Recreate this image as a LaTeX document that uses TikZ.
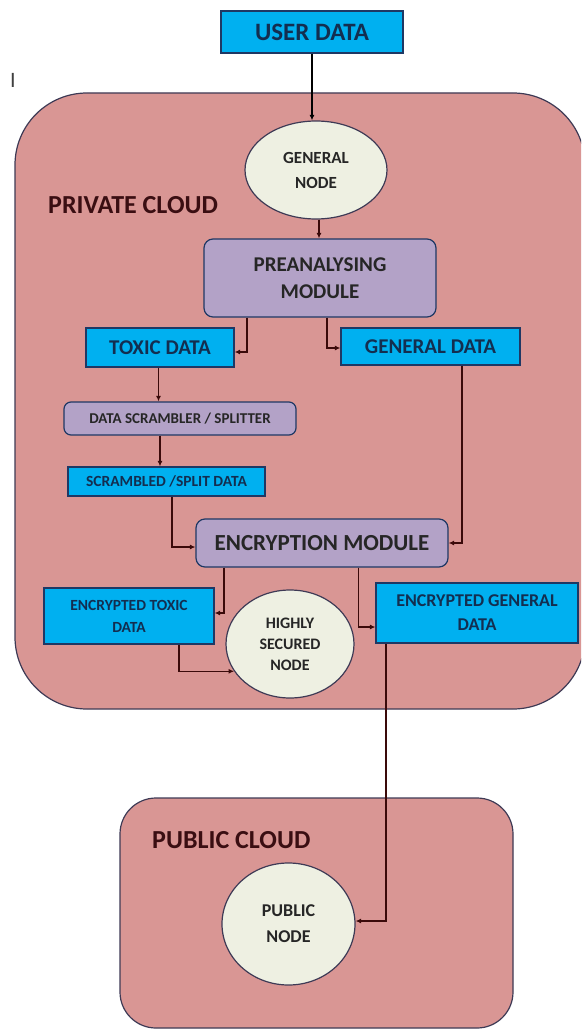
\documentclass[tikz,border=0pt]{standalone}
\usepackage{fontspec}
\setmainfont{Carlito}
\usetikzlibrary{arrows.meta,shapes.geometric}
\definecolor{cloudfill}{HTML}{D99694}
\definecolor{cloudline}{HTML}{3E3A55}
\definecolor{boxfill}{HTML}{00B0F0}
\definecolor{boxline}{HTML}{1F3864}
\definecolor{boxtext}{HTML}{132E50}
\definecolor{modfill}{HTML}{B3A2C7}
\definecolor{nodefill}{HTML}{EEF0E2}
\definecolor{conn}{HTML}{3A0A0A}
\definecolor{cloudtext}{HTML}{3A0E12}
\newcommand{\fs}[2]{\bfseries\fontsize{#1}{#2}\selectfont}
\begin{document}
\begin{tikzpicture}[x=1pt,y=-1pt,
 cloud/.style={draw=cloudline, fill=cloudfill, line width=1.2pt},
 databox/.style={draw=boxline, fill=boxfill, line width=1.2pt, text=boxtext, inner sep=0pt, align=center},
 modbox/.style={draw=boxline, fill=modfill, line width=1.2pt, rounded corners=9pt, text=black!85, inner sep=0pt, align=center},
 ellnode/.style={ellipse, draw=cloudline, fill=nodefill, line width=1.2pt, inner sep=0pt, align=center, text=black!85},
 cloudlabel/.style={anchor=west, inner sep=0pt, text=cloudtext},
 arr/.style={draw=conn, line width=1.3pt, -{Latex[length=5.5pt,width=5pt]}},
]
\fill[white] (0,0) rectangle (581,1030);
\useasboundingbox (0,0) rectangle (581,1030);
\clip (0,0) rectangle (581,1030);

% clouds
\draw[cloud, rounded corners=72pt] (15,93) rectangle (585,709);
\draw[cloud, rounded corners=36pt] (120,798) rectangle (513,1028);

\node[inner sep=0pt, text=black!75, font=\fontsize{22}{26}\selectfont] (mark) at (13,80) {I};
\node[cloudlabel, font=\fs{26}{30}] (privlabel) at (48,205) {PRIVATE CLOUD};
\node[cloudlabel, font=\fs{26}{30}] (publabel) at (152,840) {PUBLIC CLOUD};

% nodes
\node[databox, minimum width=182pt, minimum height=42pt, font=\fs{25}{30}] (user) at (312,32) {USER DATA};
\node[ellnode, minimum width=142pt, minimum height=98pt, font=\fs{17}{25}] (gen) at (316,170) {GENERAL\\NODE};
\node[modbox, minimum width=232pt, minimum height=78pt, font=\fs{21}{27}] (pre) at (320,278) {PREANALYSING\\MODULE};
\node[databox, minimum width=148pt, minimum height=39pt, font=\fs{21}{25}] (toxic) at (160,347.5) {TOXIC DATA};
\node[databox, minimum width=179pt, minimum height=37pt, font=\fs{21}{25}] (gdata) at (430.5,346.5) {GENERAL DATA};
\node[modbox, rounded corners=7pt, minimum width=232pt, minimum height=33pt, font=\fs{15}{18}] (scr) at (180,418.5) {DATA SCRAMBLER / SPLITTER};
\node[databox, minimum width=197pt, minimum height=29pt, font=\fs{15.5}{18}] (sdata) at (166.5,481.5) {SCRAMBLED /SPLIT DATA};
\node[modbox, minimum width=252pt, minimum height=48pt, font=\fs{23}{27}] (enc) at (322,543) {ENCRYPTION MODULE};
\node[databox, minimum width=170pt, minimum height=56pt, font=\fs{15.5}{22}] (etox) at (129,616) {ENCRYPTED TOXIC\\DATA};
\node[databox, minimum width=202pt, minimum height=60pt, font=\fs{18}{24}] (egen) at (477,613) {ENCRYPTED GENERAL\\DATA};
\node[ellnode, minimum width=128pt, minimum height=108pt, font=\fs{16}{21}] (hsn) at (290,644) {HIGHLY\\SECURED\\NODE};
\node[ellnode, minimum width=133pt, minimum height=122pt, font=\fs{18}{26}] (pubnode) at (288.5,924) {PUBLIC\\NODE};

% connectors
\draw[arr, draw=black] (user.south) -- (user.south |- gen.north);
\draw[arr] ([xshift=3pt]gen.south) -- ([xshift=3pt]gen.south |- pre.north);
\draw[arr] ([xshift=-73pt]pre.south) |- ([yshift=-4.5pt]toxic.east);
\draw[arr] ([xshift=7pt]pre.south) |- ([yshift=-1.5pt]gdata.west);
\draw[arr] ([xshift=-1.5pt]toxic.south) -- ([xshift=-1.5pt]toxic.south |- scr.north);
\draw[arr] ([xshift=-20pt]scr.south) -- ([xshift=-20pt]scr.south |- sdata.north);
\draw[arr] ([xshift=5.5pt]sdata.south) |- ([yshift=-4pt]enc.west);
\draw[arr] ([xshift=31.5pt]gdata.south) |- (enc.east);
\draw[arr] ([xshift=-98pt]enc.south) |- ([yshift=3pt]etox.east);
\draw[arr] ([xshift=36.5pt]enc.south) |- ([yshift=-14pt]egen.west);
\draw[arr] ([xshift=50pt]etox.south) |- (hsn.206);
\draw[arr] ([xshift=-91pt]egen.south) |- ([yshift=3pt]pubnode.east);
\end{tikzpicture}
\end{document}
